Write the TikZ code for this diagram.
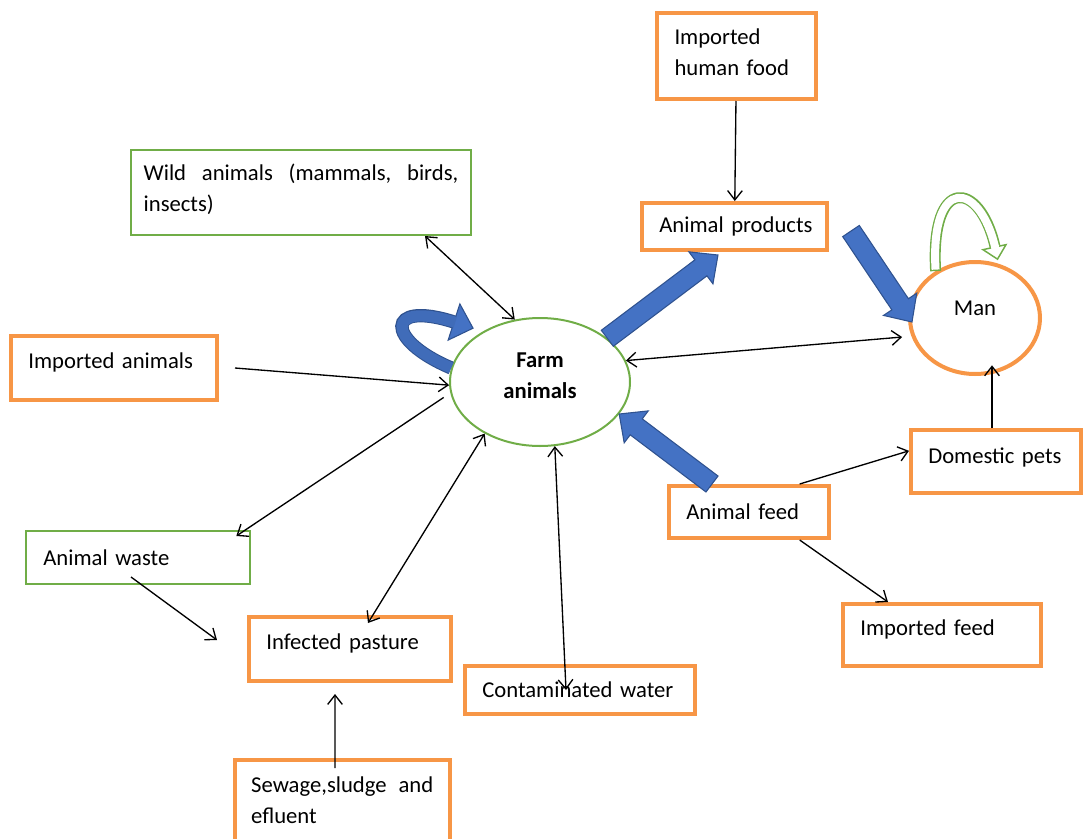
\documentclass[tikz,border=0pt]{standalone}
\usepackage{fontspec}
\setmainfont{Carlito}
\usetikzlibrary{arrows.meta,calc,shapes.geometric}

\definecolor{orng}{HTML}{F79646}
\definecolor{grn}{HTML}{70AD47}
\definecolor{blu}{HTML}{4472C4}
\definecolor{bludk}{HTML}{2F528F}

\newcommand{\fatarrow}[2]{%
  \path (#1) coordinate (fa-s) (#2) coordinate (fa-e);
  \coordinate (fa-b) at ($(fa-e)!16pt!(fa-s)$);
  \filldraw[fat] ($(fa-s)!7.5pt!90:(fa-e)$) -- ($(fa-b)!7.5pt!90:(fa-e)$) -- ($(fa-b)!15pt!90:(fa-e)$)
    -- (fa-e) -- ($(fa-b)!15pt!-90:(fa-e)$) -- ($(fa-b)!7.5pt!-90:(fa-e)$) -- ($(fa-s)!7.5pt!-90:(fa-e)$) -- cycle;}

\begin{document}
\begin{tikzpicture}[x=0.75pt,y=-0.75pt,
    font=\fontsize{17}{23.25}\selectfont,
    obox/.style={draw=orng,line width=3pt,rectangle,align=left,inner xsep=13pt,inner ysep=0pt},
    gbox/.style={draw=grn,line width=1.5pt,rectangle,align=left,inner xsep=13pt,inner ysep=0pt},
    arr/.style={-{Straight Barb[length=7pt,width=11pt]},line width=1pt},
    arr2/.style={{Straight Barb[length=7pt,width=11pt]}-{Straight Barb[length=7pt,width=11pt]},line width=1pt},
    fat/.style={fill=blu,draw=bludk,line width=0.8pt}]

      \useasboundingbox (0,0) rectangle (1083,839);
      \clip (0,0) rectangle (1083,839);

      \node[obox,text width=93pt,minimum height=64.5pt,text depth=28.5pt] (hfood) at (736.5,56) {Imported\\human food};
      \node[gbox,text width=236pt,inner xsep=9.5pt,minimum height=63.75pt,text depth=30pt] (wild) at (301,192.5)
        {\hbox to 236pt{Wild\hfill animals\hfill (mammals,\hfill birds,}\\insects)};
      \node[obox,text width=112.75pt,minimum height=35.25pt] (prod) at (734.5,226.5) {\mbox{Animal products}};
      \node[ellipse,draw=orng,line width=3pt,minimum width=97.5pt,minimum height=84pt,inner sep=0pt,text depth=15pt] (man) at (975,318) {Man};
      \node[obox,text width=128.5pt,minimum height=48pt,text depth=11pt] (impan) at (114,368) {Imported animals};
      \node[ellipse,draw=grn,line width=1.5pt,minimum width=135pt,minimum height=96pt,inner sep=0pt,align=center,
        font=\fontsize{17}{23.25}\selectfont\bfseries,text depth=9pt] (farm) at (540,382) {Farm\\animals};
      \node[obox,text width=101.5pt,minimum height=47.25pt,text depth=9.5pt] (pets) at (996,461.5) {\mbox{Domestic pets}};
      \node[obox,text width=94pt,minimum height=39pt] (feed) at (749,512) {Animal feed};
      \node[gbox,text width=142pt,minimum height=39.75pt] (waste) at (138,557.5) {Animal waste};
      \node[obox,text width=125.5pt,minimum height=48pt,text depth=11pt] (pasture) at (350,649) {Infected pasture};
      \node[obox,text width=122.5pt,minimum height=46.5pt,text depth=10.5pt] (ifeed) at (942,635) {Imported feed};
      \node[obox,text width=146.5pt,minimum height=36pt] (water) at (580,690) {\mbox{Contaminated water}};
      \node[obox,text width=137pt,inner xsep=12.1pt,minimum height=75pt,text depth=37.5pt] (sewage) at (342.5,810)
        {\hbox to 136.5pt{Sewage,sludge\hfill and}\\efluent};

      \draw[arr] (hfood) -- (prod);
      \draw[arr2] ([xshift=93pt]wild.south) -- (farm.112);
      \draw[arr] ([xshift=12pt]impan.east) -- (farm.182);
      \draw[arr,shorten <=6pt] (farm.187) -- ([xshift=-11pt,yshift=-4.5pt]waste.north east);
      \draw[arr2] (farm.223) -- ([xshift=13.5pt,yshift=-6pt]pasture.north);
      \draw[arr2] (farm.283) -- ([xshift=-10.5pt]water.center);
      \draw[arr2,shorten >=7pt] (farm.14) -- (man.196);
      \draw[arr] ([xshift=38pt]feed.north) -- ([yshift=8pt]pets.west);
      \draw[arr] ([xshift=38pt]feed.south) -- ([xshift=-40.5pt]ifeed.north);
      \draw[arr] ([xshift=-3pt]pets.north) -- ([xshift=-3pt,yshift=8pt]pets.north |- man.south);
      \draw[arr] ([xshift=-5.25pt,yshift=6pt]waste.south) -- ([xshift=-22.5pt,yshift=6.75pt]pasture.west);
      \draw[arr] ([xshift=-5.6pt,yshift=-7.5pt]sewage.north) -- ([xshift=-11.25pt,yshift=-8.25pt]pasture.south);

      \fatarrow{farm.33}{[xshift=-12.4pt,yshift=-2.25pt]prod.south}
      \fatarrow{[xshift=16.5pt,yshift=-3.4pt]prod.east}{[xshift=3pt,yshift=-3pt]man.west}
      \fatarrow{[xshift=-27.75pt]feed.north}{farm.338}

      \coordinate (floop) at ([xshift=3.75pt,yshift=45pt]farm.west);
      \filldraw[fat] (floop) ++(5.85,-18.1) -- ++(13.2,24.3) -- ++(-24.9,11.9) -- cycle;
      \draw[bludk,line width=10pt] (farm.171) .. controls (385,340) and (385,300) .. (floop);
      \draw[blu!80!bludk,line width=8.4pt,shorten >=-1pt] (farm.171) .. controls (385,340) and (385,300) .. (floop);

      \coordinate (mloop) at ([xshift=15pt,yshift=10pt]man.north);
      \filldraw[fill=white,draw=grn,line width=1.1pt] (mloop) ++(-12,3) -- ++(23,-5) -- ++(-8.5,14.5) -- cycle;
      \draw[grn,line width=8.25pt] (man.130) .. controls (930,175) and (980,180) .. (mloop);
      \draw[white,line width=6pt,shorten <=1.1pt,shorten >=-1.5pt] (man.130) .. controls (930,175) and (980,180) .. (mloop);

    \end{tikzpicture}
\end{document}
